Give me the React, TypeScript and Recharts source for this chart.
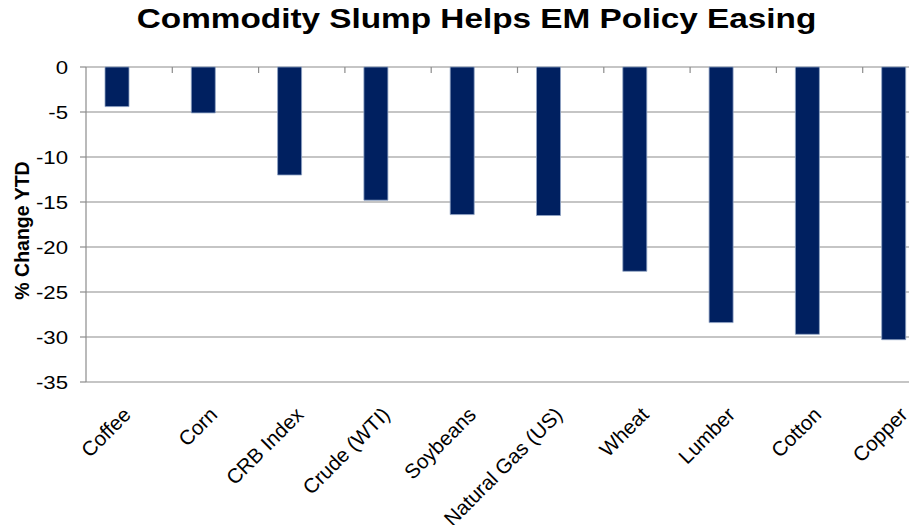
import React from 'react';
import { BarChart, Bar, XAxis, YAxis, CartesianGrid } from 'recharts';

const TITLE = 'Commodity Slump Helps EM Policy Easing';
const Y_LABEL = '% Change YTD';

const categories = [
  'Coffee',
  'Corn',
  'CRB Index',
  'Crude (WTI)',
  'Soybeans',
  'Natural Gas (US)',
  'Wheat',
  'Lumber',
  'Cotton',
  'Copper',
];

const changeYTD = [-4.4, -5.1, -12.0, -14.8, -16.4, -16.5, -22.7, -28.4, -29.7, -30.3];

// Excel-style empty second series (keeps bars left of category centre)
const emptySeries = [null, null, null, null, null, null, null, null, null, null];

const yTicks = [0, -5, -10, -15, -20, -25, -30, -35];

const data = categories.map((name, i) => ({
  name,
  value: changeYTD[i],
  empty: emptySeries[i],
}));

const FONT = '"Liberation Sans", Arial, sans-serif';
const GRID = '#8c8c8c';
const PLOT_TOP = 67;
const TICK_LEN = 6;
const CHART_W = 949;
const Y_AXIS_W = 86;

const XTick = (props: any) => {
  const { x, y, payload, index } = props;
  const half = (CHART_W - Y_AXIS_W) / categories.length / 2;
  const bx = x + half;
  const idx = typeof index === 'number' ? index : categories.indexOf(payload.value);
  return (
    <g>
      {idx < categories.length - 1 ? (
        <line x1={bx} x2={bx} y1={PLOT_TOP} y2={PLOT_TOP + TICK_LEN} stroke={GRID} strokeWidth={1.2} />
      ) : null}
      <g transform={`translate(${x + 3},${y + 26})`}>
        <text
          x={0}
          y={0}
          textAnchor="end"
          transform="rotate(-45)"
          fontFamily={FONT}
          fontSize={20.5}
          fill="#000"
        >
          {payload.value}
        </text>
      </g>
    </g>
  );
};

const YTick = (props: any) => {
  const { x, y, payload } = props;
  return (
    <g transform={`translate(${x},${y}) scale(1.2,1)`}>
      <text
        x={0}
        y={0}
        dy={6.5}
        textAnchor="end"
        fontFamily={FONT}
        fontSize={18.5}
        fill="#000"
      >
        {payload.value}
      </text>
    </g>
  );
};

const YLabel = (props: any) => {
  const vb = props.viewBox || {};
  const cx = (vb.x || 0) + 22;
  const cy = (vb.y || 0) + (vb.height || 0) / 2 + 6;
  return (
    <text
      x={cx}
      y={cy}
      transform={`rotate(-90, ${cx}, ${cy})`}
      textAnchor="middle"
      dominantBaseline="central"
      fontFamily={FONT}
      fontWeight="bold"
      fontSize={19.5}
      fill="#000"
    >
      {Y_LABEL}
    </text>
  );
};

export default function App() {
  return (
    <div
      style={{
        position: 'fixed',
        left: 0,
        top: 0,
        width: 909,
        height: 525,
        overflow: 'hidden',
        background: '#fff',
      }}
    >
      <div
        style={{
          position: 'absolute',
          left: 0,
          top: 5,
          width: 952,
          textAlign: 'center',
          fontFamily: FONT,
          fontWeight: 'bold',
          fontSize: 28,
          lineHeight: '28px',
          color: '#000',
          whiteSpace: 'nowrap',
        }}
      >
        <span style={{ display: 'inline-block', transform: 'scaleX(1.19)' }}>{TITLE}</span>
      </div>
      <div style={{ position: 'absolute', left: 0, top: 0 }}>
        <BarChart
          width={CHART_W}
          height={525}
          data={data}
          margin={{ top: PLOT_TOP, right: 0, bottom: 0, left: 0 }}
          barGap={0}
          barCategoryGap={19}
        >
          <CartesianGrid horizontal vertical={false} stroke={GRID} strokeWidth={1.2} />
          <XAxis
            dataKey="name"
            height={143}
            axisLine={false}
            tickLine={false}
            interval={0}
            tick={<XTick />}
          />
          <YAxis
            width={Y_AXIS_W}
            domain={[-35, 0]}
            ticks={yTicks}
            interval={0}
            tickSize={6}
            tickMargin={12}
            axisLine={{ stroke: GRID, strokeWidth: 1.2 }}
            tickLine={{ stroke: GRID, strokeWidth: 1.2 }}
            tick={<YTick />}
            label={<YLabel />}
          />
          <Bar
            dataKey="value"
            fill="#002060"
            stroke="#8fa3c4"
            strokeWidth={0.8}
            isAnimationActive={false}
          />
          <Bar dataKey="empty" fill="#002060" isAnimationActive={false} />
        </BarChart>
      </div>
    </div>
  );
}
